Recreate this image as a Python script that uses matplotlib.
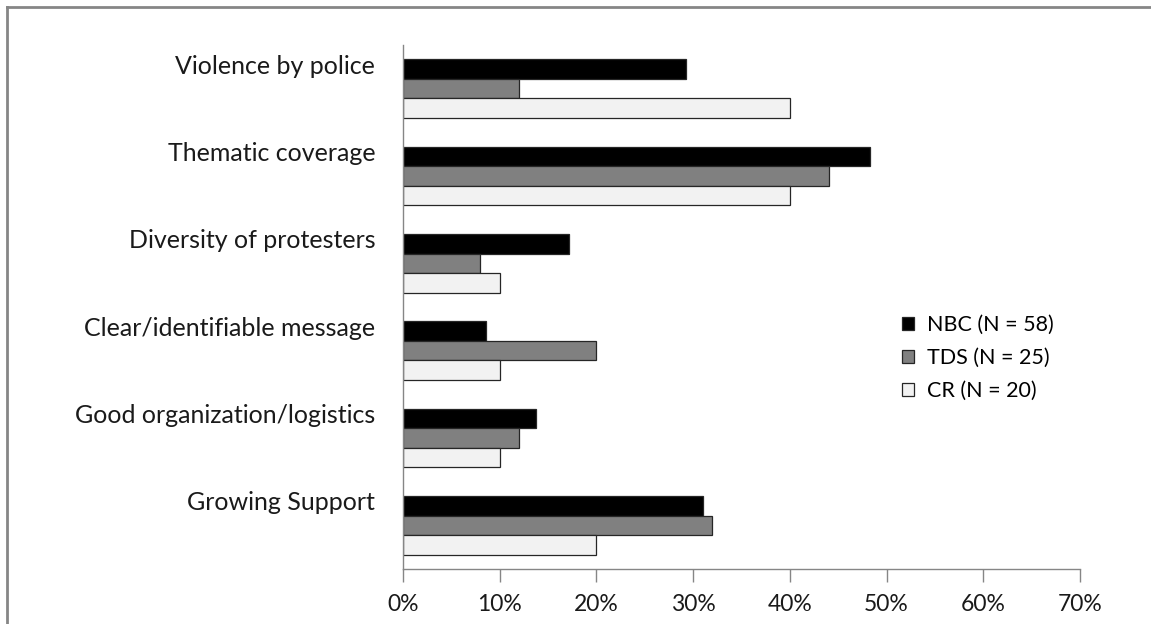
import numpy as np
import matplotlib.pyplot as plt
from matplotlib.lines import Line2D

categories = ['Violence by police', 'Thematic coverage', 'Diversity of protesters',
              'Clear/identifiable message', 'Good organization/logistics', 'Growing Support']
nbc = [29.3, 48.3, 17.2, 8.6, 13.8, 31.0]
tds = [12, 44, 8, 20, 12, 32]
cr = [40, 40, 10, 10, 10, 20]
series_names = ['NBC (N = 58)', 'TDS (N = 25)', 'CR (N = 20)']
xticks = [0, 10, 20, 30, 40, 50, 60, 70]

plt.rcParams['font.family'] = ['Lato', 'DejaVu Sans']

fig = plt.figure(figsize=(11.51, 6.24), dpi=100)
ax = fig.add_axes([0.3501, 0.0881, 0.5882, 0.8398])

y = np.arange(len(categories))
h = 0.223
colors = ['#000000', '#808080', '#f2f2f2']
for k, (vals, col) in enumerate(zip([nbc, tds, cr], colors)):
    ax.barh(y + (k - 1) * h, vals, height=h, color=col, edgecolor='#262626',
            linewidth=0.9, label=series_names[k])

ax.set_xlim(0, 70)
ax.set_ylim(len(categories) - 0.5, -0.5)
ax.set_xticks(xticks)
ax.set_xticklabels([f'{t}%' for t in xticks], fontsize=16.5, color='#1a1a1a')
ax.set_yticks(y - 0.28)
ax.set_yticklabels(categories, fontsize=18, color='#1a1a1a')
ax.tick_params(axis='y', length=0, pad=20)
ax.tick_params(axis='x', length=9, width=1, color='#868686', pad=9)
for s in ['top', 'right']:
    ax.spines[s].set_visible(False)
for s in ['left', 'bottom']:
    ax.spines[s].set_color('#868686')
    ax.spines[s].set_linewidth(1)

ax.legend(loc='center left', bbox_to_anchor=(0.767, 0.426), bbox_transform=fig.transFigure,
          frameon=False, fontsize=15.5, handlelength=0.55, handleheight=0.55,
          handletextpad=0.6, labelspacing=0.6)

# outer frame (left and top edges visible)
fig.add_artist(Line2D([7 / 1151, 7 / 1151], [0, 1 - 7 / 624], transform=fig.transFigure,
                      color='#868686', linewidth=2))
fig.add_artist(Line2D([7 / 1151, 1], [1 - 7 / 624, 1 - 7 / 624], transform=fig.transFigure,
                      color='#868686', linewidth=2))

fig.savefig('out.png', dpi=100)
